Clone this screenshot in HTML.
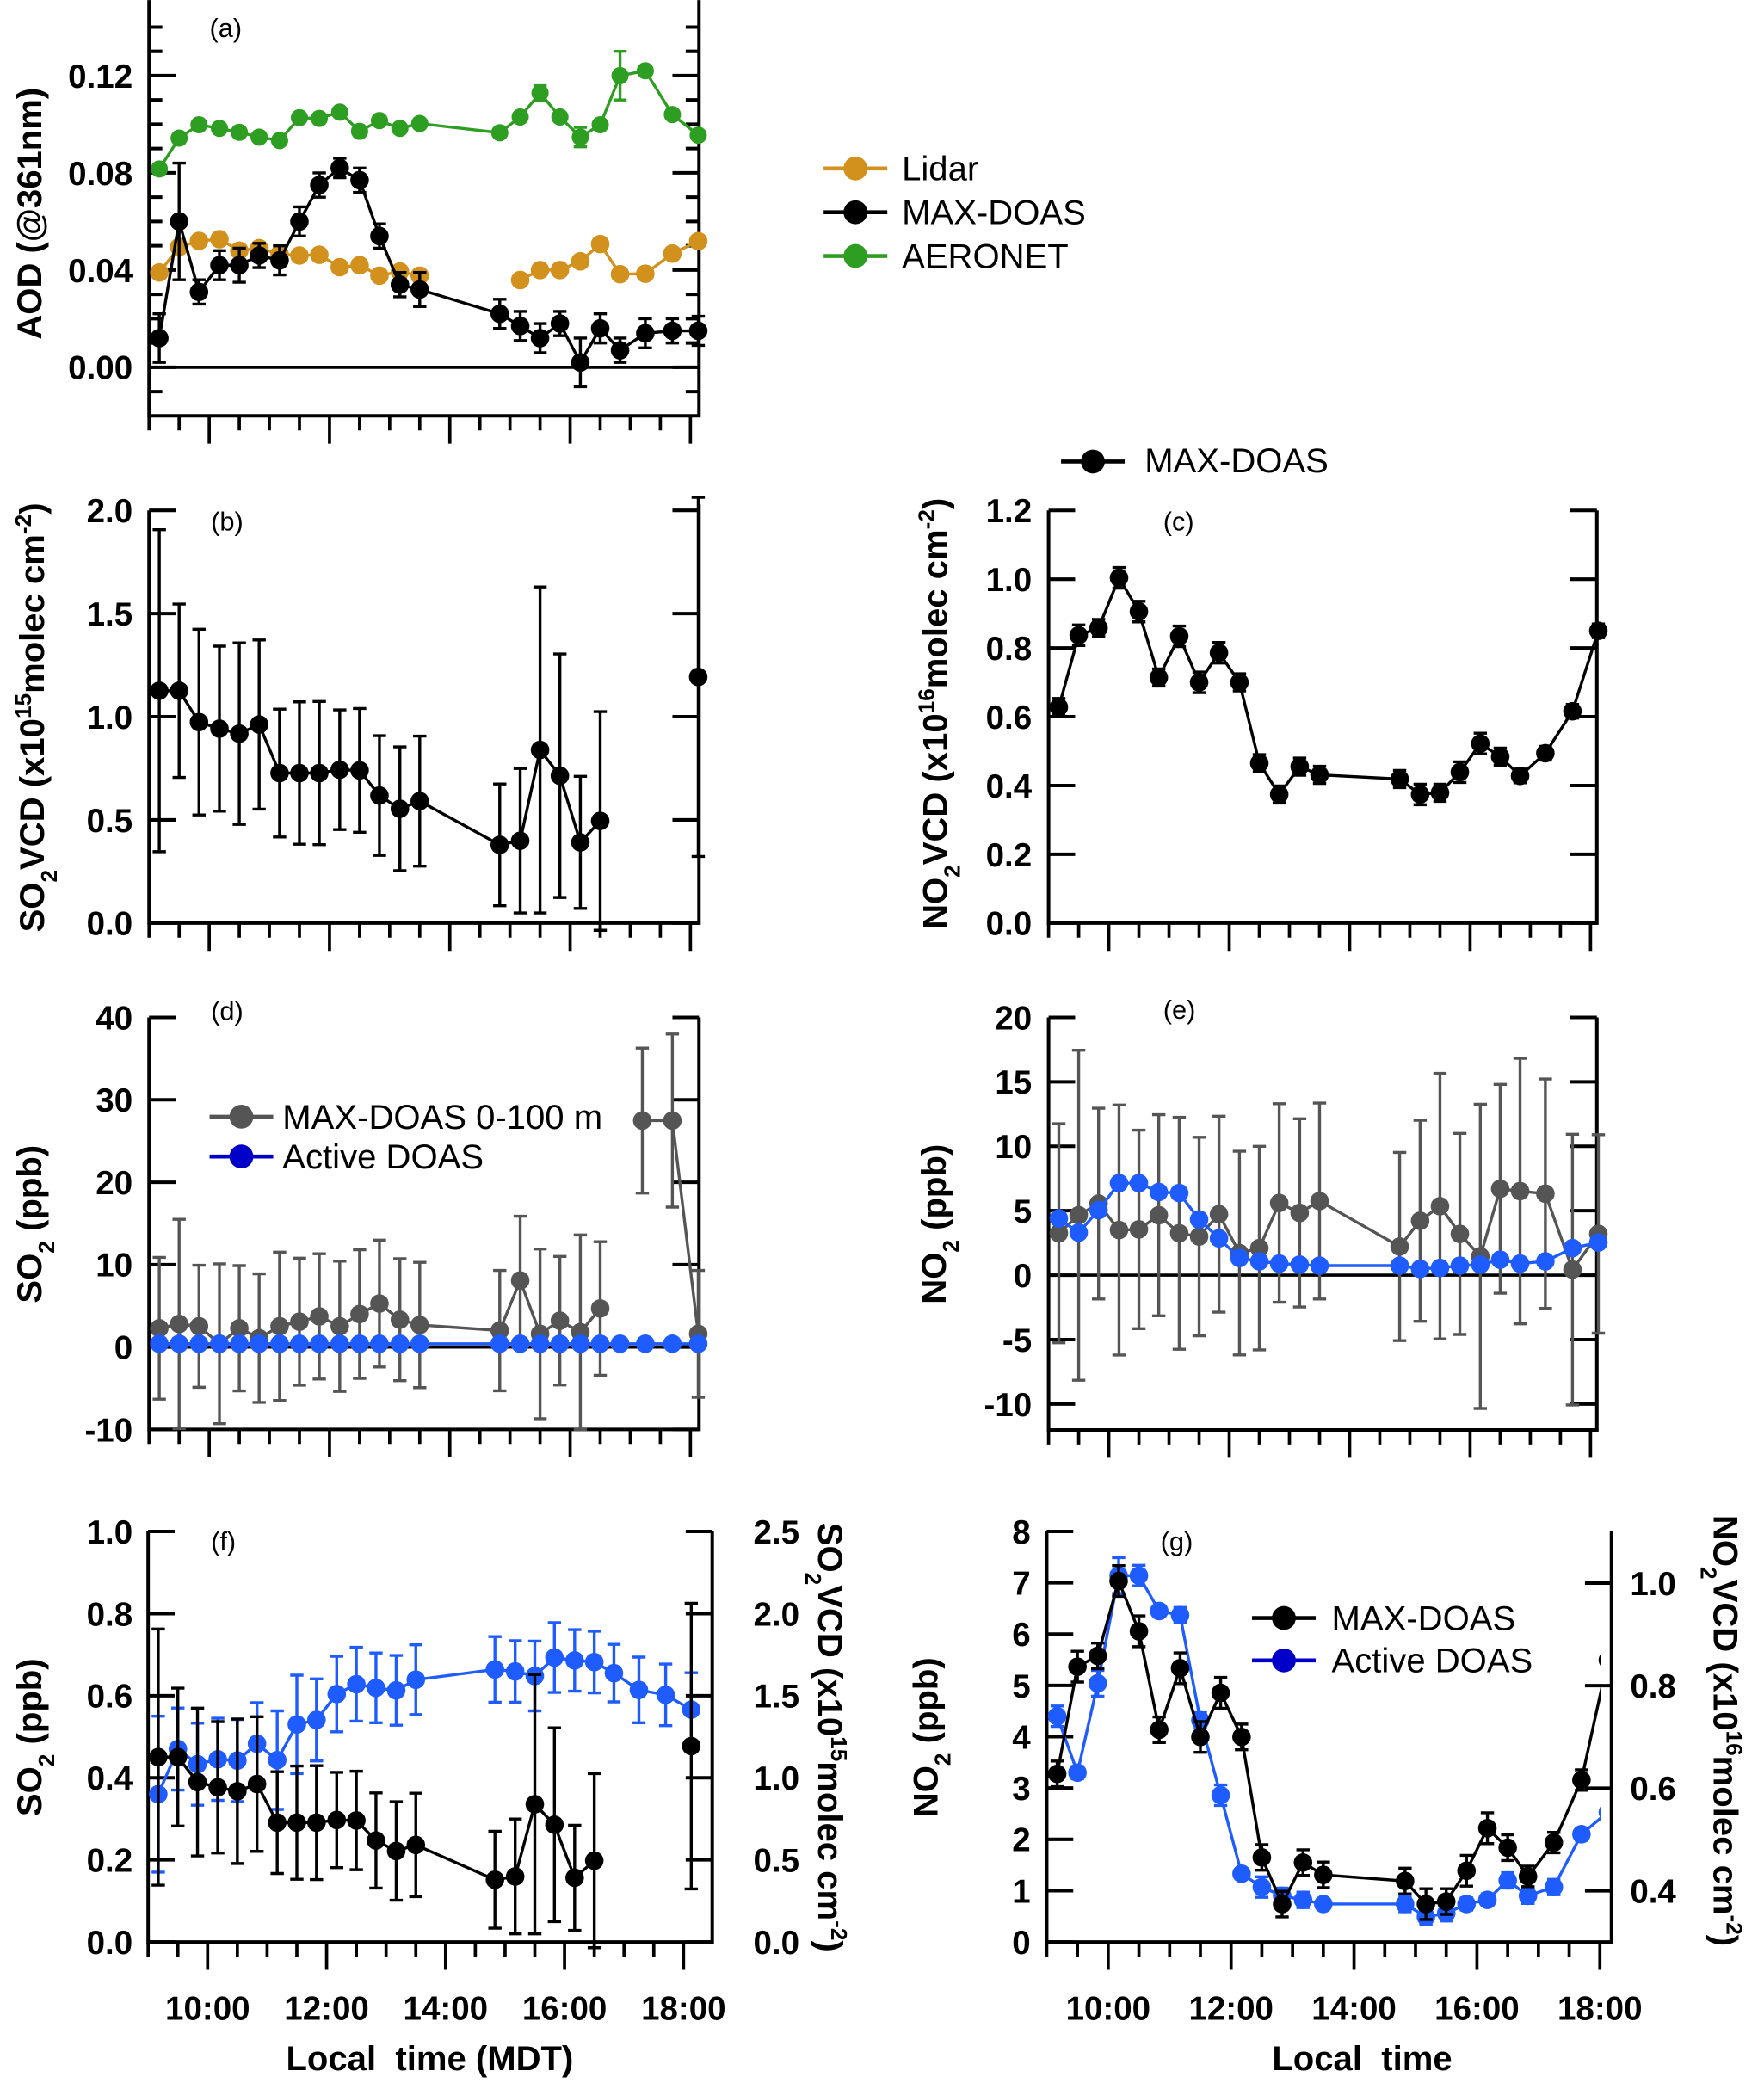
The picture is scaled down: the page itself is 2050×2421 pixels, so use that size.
<!DOCTYPE html>
<html><head><meta charset="utf-8"><title>AOD, SO2 and NO2 time series</title>
<style>
html,body{margin:0;padding:0;background:#fff;}
svg{display:block;font-family:"Liberation Sans",Arial,sans-serif;}
.tl{font-size:25px;font-weight:bold;fill:#000;}
.tt{font-size:26px;font-weight:bold;fill:#000;}
.pl{font-size:20px;fill:#000;}
.lg{font-size:26px;fill:#000;}
</style></head>
<body>
<svg id="chart" width="2050" height="2421" viewBox="0 0 1330 1570.6" xmlns="http://www.w3.org/2000/svg">
<rect x="0" y="0" width="1330" height="1570.6" fill="#fff"/>
<text class="tt" transform="translate(31,161) rotate(-90)" text-anchor="middle">AOD (@361nm)</text>
<text class="tt" transform="translate(33,541) rotate(-90)" text-anchor="middle">SO<tspan font-size="17" baseline-shift="sub">2</tspan>VCD (x10<tspan font-size="17" baseline-shift="super">15</tspan>molec cm<tspan font-size="17" baseline-shift="super">-2</tspan>)</text>
<text class="tt" transform="translate(714,538) rotate(-90)" text-anchor="middle">NO<tspan font-size="17" baseline-shift="sub">2</tspan>VCD (x10<tspan font-size="17" baseline-shift="super">16</tspan>molec cm<tspan font-size="17" baseline-shift="super">-2</tspan>)</text>
<text class="tt" transform="translate(31,923) rotate(-90)" text-anchor="middle">SO<tspan font-size="17" baseline-shift="sub">2</tspan> (ppb)</text>
<text class="tt" transform="translate(713,923) rotate(-90)" text-anchor="middle">NO<tspan font-size="17" baseline-shift="sub">2</tspan> (ppb)</text>
<text class="tt" transform="translate(31,1310) rotate(-90)" text-anchor="middle">SO<tspan font-size="17" baseline-shift="sub">2</tspan> (ppb)</text>
<text class="tt" transform="translate(707,1310) rotate(-90)" text-anchor="middle">NO<tspan font-size="17" baseline-shift="sub">2</tspan> (ppb)</text>
<text class="tt" transform="translate(617,1310) rotate(90)" text-anchor="middle">SO<tspan font-size="17" baseline-shift="sub">2</tspan>VCD (x10<tspan font-size="17" baseline-shift="super">15</tspan>molec cm<tspan font-size="17" baseline-shift="super">-2</tspan>)</text>
<text class="tt" transform="translate(1292,1305) rotate(90)" text-anchor="middle">NO<tspan font-size="17" baseline-shift="sub">2</tspan>VCD (x10<tspan font-size="17" baseline-shift="super">16</tspan>molec cm<tspan font-size="17" baseline-shift="super">-2</tspan>)</text>
<text class="tt" x="324" y="1561" text-anchor="middle" xml:space="preserve">Local  time (MDT)</text>
<text class="tt" x="1027" y="1561" text-anchor="middle" xml:space="preserve">Local  time</text>
<text class="pl" x="158" y="28">(a)</text>
<text class="pl" x="159" y="400">(b)</text>
<text class="pl" x="877" y="400">(c)</text>
<text class="pl" x="159" y="769">(d)</text>
<text class="pl" x="877" y="768">(e)</text>
<text class="pl" x="159" y="1169">(f)</text>
<text class="pl" x="875" y="1169">(g)</text>
<text class="lg" x="680" y="136">Lidar</text>
<text class="lg" x="680" y="169">MAX-DOAS</text>
<text class="lg" x="680" y="202">AERONET</text>
<text class="lg" x="863" y="356">MAX-DOAS</text>
<text class="lg" x="213" y="851">MAX-DOAS 0-100 m</text>
<text class="lg" x="213" y="881">Active DOAS</text>
<text class="lg" x="1004" y="1229">MAX-DOAS</text>
<text class="lg" x="1004" y="1261">Active DOAS</text>
</svg>
<script>
const tA = [9.17,9.5,9.83,10.17,10.5,10.83,11.17,11.5,11.83,12.17,12.5,12.83,13.17,13.5,14.83,15.17,15.5,15.83,16.17,16.5,16.83,17.25,17.7,18.13];
const tB = [9.17,9.5,9.83,10.17,10.5,10.83,11.17,11.5,11.83,12.17,12.5,12.83,13.17,13.5,14.83,15.17,15.5,15.83,16.17,16.5,18.13];
const tLidar = [9.17,9.5,9.83,10.17,10.5,10.83,11.17,11.5,11.83,12.17,12.5,12.83,13.17,13.5,15.17,15.5,15.83,16.17,16.5,16.83,17.25,17.7,18.13];
const tDGray = [9.17,9.5,9.83,10.17,10.5,10.83,11.17,11.5,11.83,12.17,12.5,12.83,13.17,13.5,14.83,15.17,15.5,15.83,16.17,16.5,17.2,17.7,18.13];

const aodMax = [0.012,0.060,0.031,0.042,0.042,0.046,0.044,0.060,0.075,0.082,0.077,0.054,0.034,0.032,0.022,0.017,0.012,0.018,0.002,0.016,0.007,0.014,0.015,0.015];
const aodMaxErr = [0.010,0.024,0.005,0.006,0.007,0.005,0.006,0.006,0.005,0.004,0.005,0.005,0.005,0.007,0.006,0.006,0.006,0.005,0.010,0.006,0.005,0.006,0.005,0.006];
const aodLidar = [0.039,0.0495,0.052,0.0527,0.048,0.049,0.0466,0.046,0.0463,0.0412,0.042,0.0377,0.0394,0.0377,0.0359,0.040,0.040,0.0436,0.0507,0.0383,0.0385,0.0468,0.0519];
const aodAer = [0.0816,0.0943,0.0998,0.0983,0.0967,0.0947,0.0933,0.1027,0.1024,0.105,0.0971,0.1015,0.0983,0.1003,0.0965,0.103,0.1129,0.103,0.0947,0.0998,0.120,0.122,0.104,0.0955];
const aodAerErr = [0.0015,0.0015,0.0015,0.0015,0.0015,0.0015,0.0015,0.0015,0.0015,0.0015,0.0015,0.0015,0.0015,0.0015,0.0015,0.0015,0.003,0.0015,0.004,0.0015,0.010,0.0015,0.0015,0.0015];

const so2Vcd = [1.126,1.126,0.974,0.942,0.918,0.962,0.727,0.727,0.727,0.743,0.740,0.618,0.554,0.591,0.379,0.399,0.839,0.714,0.391,0.495,1.193];
const so2VcdErr = [0.78,0.42,0.45,0.40,0.44,0.41,0.31,0.345,0.347,0.29,0.30,0.29,0.30,0.315,0.295,0.35,0.79,0.59,0.32,0.53,0.87];

const no2Vcd = [0.628,0.837,0.858,1.004,0.906,0.714,0.834,0.700,0.786,0.700,0.465,0.374,0.455,0.431,0.419,0.374,0.379,0.439,0.522,0.484,0.428,0.494,0.616,0.850];
const no2VcdErr = [0.025,0.03,0.025,0.03,0.03,0.025,0.03,0.03,0.03,0.025,0.025,0.025,0.025,0.025,0.025,0.03,0.025,0.03,0.03,0.025,0.02,0.02,0.02,0.02];

const so2Gray = [2.28,2.8,2.52,0.4,2.28,1.08,2.52,3.08,3.72,2.52,4.0,5.28,3.32,2.68,2.0,8.08,1.6,3.2,1.8,4.68,27.48,27.48,1.6];
const so2GrayErr = [8.6,12.7,7.4,9.7,7.6,7.8,9.0,7.7,7.6,7.9,7.8,7.7,7.4,7.6,7.3,7.8,10.3,7.8,11.8,8.1,8.8,10.5,7.7];
const so2Active = [0.4,0.4,0.4,0.4,0.4,0.4,0.4,0.4,0.4,0.4,0.4,0.4,0.4,0.4,0.4,0.4,0.4,0.4,0.4,0.4,0.4,0.4,0.4,0.4];

const no2Gray = [3.25,4.65,5.55,3.5,3.55,4.65,3.25,3.0,4.73,1.71,2.1,5.6,4.83,5.75,2.22,4.22,5.35,3.2,1.46,6.7,6.52,6.32,0.43,3.2];
const no2GrayErr = [8.5,12.8,7.4,9.7,7.7,7.8,9.0,7.7,7.6,7.9,7.9,7.7,7.3,7.6,7.3,7.8,10.3,7.8,11.8,8.1,10.3,8.9,10.5,7.7];
const no2Active = [4.4,3.3,5.04,7.14,7.14,6.45,6.37,4.32,2.86,1.33,1.07,0.9,0.82,0.74,0.74,0.49,0.56,0.74,0.82,1.2,0.9,1.07,2.1,2.53];
const no2ActiveErr = [0.2,0.12,0.25,0.35,0.2,0.1,0.15,0.15,0.2,0.1,0.2,0.15,0.15,0.1,0.15,0.15,0.15,0.12,0.12,0.15,0.15,0.15,0.12,0.12];

const so2ActiveF = [0.36,0.47,0.433,0.445,0.442,0.483,0.443,0.53,0.541,0.604,0.628,0.619,0.613,0.639,0.664,0.659,0.648,0.693,0.686,0.682,0.655,0.614,0.602,0.566];
const so2ActiveFErr = [0.19,0.1,0.1,0.1,0.1,0.1,0.12,0.12,0.1,0.092,0.09,0.085,0.085,0.085,0.08,0.075,0.085,0.085,0.075,0.075,0.07,0.08,0.075,0.09];

const hourTicks = [10,12,14,16,18];
const hourLabels = ['10:00','12:00','14:00','16:00','18:00'];
const aTicks = [0,0.04,0.08,0.12];
const aTickLabels = ['0.00','0.04','0.08','0.12'];
const bTicks = [0,0.5,1,1.5,2];
const bTickLabels = ['0.0','0.5','1.0','1.5','2.0'];
const cTicks = [0,0.2,0.4,0.6,0.8,1.0,1.2];
const cTickLabels = ['0.0','0.2','0.4','0.6','0.8','1.0','1.2'];
const dTicks = [-10,0,10,20,30,40];
const dTickLabels = ['-10','0','10','20','30','40'];
const eTicks = [-10,-5,0,5,10,15,20];
const eTickLabels = ['-10','-5','0','5','10','15','20'];
const fTicks = [0,0.2,0.4,0.6,0.8,1.0];
const fTickLabels = ['0.0','0.2','0.4','0.6','0.8','1.0'];
const fRTicks = [0,0.5,1.0,1.5,2.0,2.5];
const fRTickLabels = ['0.0','0.5','1.0','1.5','2.0','2.5'];
const gTicks = [0,1,2,3,4,5,6,7,8];
const gTickLabels = ['0','1','2','3','4','5','6','7','8'];
const gRTicks = [0.4,0.6,0.8,1.0];
const gRTickLabels = ['0.4','0.6','0.8','1.0'];

const NS = 'http://www.w3.org/2000/svg';
const svg = document.getElementById('chart');
function el(tag, attrs, parent) {
  const e = document.createElementNS(NS, tag);
  for (const k in attrs) e.setAttribute(k, attrs[k]);
  (parent || svg).appendChild(e);
  return e;
}
function X(p, t) { return p.x0 + (t - 9) * p.pxh; }
function Y(p, v) { return p.y0 - v * p.py; }

const P = {
  a: {x0:112.4, pxh:45.35, right:527, top:0, rtop:0, bottom:313.5, y0:276.9, py:1832.5, xmax:18},
  b: {x0:112.4, pxh:45.35, right:527, top:384.8, rtop:380, bottom:696, y0:696, py:155.6, xmax:18},
  c: {x0:790.6, pxh:45.4, right:1204, top:384.8, rtop:384.8, bottom:696, y0:696, py:259.3, xmax:18},
  d: {x0:112.4, pxh:45.35, right:527, top:767.1, rtop:767.1, bottom:1077.8, y0:1015.7, py:6.214, xmax:18},
  e: {x0:790.6, pxh:45.4, right:1204, top:767.1, rtop:767.1, bottom:1078.2, y0:961.5, py:9.72, xmax:18},
  f: {x0:111.7, pxh:44.85, right:537, top:1154.8, rtop:1154.8, bottom:1464.3, y0:1464.3, py:309.5, xmax:18},
  g: {x0:789.2, pxh:46.34, right:1215, top:1154.8, rtop:1154.8, bottom:1464.3, y0:1464.3, py:38.69, xmax:18}
};
function yRg(v) { return 1425.7 - (v - 0.4) * 386.7; }

function frame(key, ticks, labels, opts) {
  const p = P[key];
  const g = el('g', {});
  
  
  const ax = el('path', {d: 'M' + p.x0 + ',' + p.top + 'V' + p.bottom + 'H' + p.right + 'V' + p.rtop, fill: 'none', stroke: '#000', 'stroke-width': 2.6}, g);
  
  
  let d = '';
  for (let t = 9; t <= p.xmax + 0.001; t += 0.5) {
    const x = X(p, t);
    const L = (Math.abs(t % 2) < 0.01) ? 21 : 11;
    d += 'M' + x + ',' + p.bottom + 'v' + L;
  }
  const xt = el('path', {d: d, stroke: '#000', 'stroke-width': 2.4}, g);
  
  
  let dy = '';
  ticks.forEach(v => {
    const y = Y(p, v);
    dy += 'M' + p.x0 + ',' + y + 'h20';
    if (!opts.noRightMirror) dy += 'M' + p.right + ',' + y + 'h-20';
  });
  (opts.minor || []).forEach(v => {
    const y = Y(p, v);
    dy += 'M' + p.x0 + ',' + y + 'h10M' + p.right + ',' + y + 'h-10';
  });
  const yt = el('path', {d: dy, stroke: '#000', 'stroke-width': 2.6}, g);
  
  
  ticks.forEach((v, i) => {
    const t = el('text', {x: opts.labelX, y: Y(p, v) + 9, 'text-anchor': 'end', class: 'tl'}, g);
    
    
    t.textContent = labels[i];
  });
  if (opts.zeroLine) {
    const z = el('line', {x1: p.x0, x2: p.right, y1: Y(p, 0), y2: Y(p, 0), stroke: '#000', 'stroke-width': 2.4}, g);
    
    
  }
  if (opts.xLabels) {
    hourTicks.forEach((h, i) => {
      const t = el('text', {x: X(p, h), y: 1523, 'text-anchor': 'middle', class: 'tl', 'font-size': 26}, g);
      
      
      t.textContent = hourLabels[i];
    });
  }
}

function series(key, name, times, vals, errs, o) {
  const p = P[key];
  const yf = o.yf || (v => Y(p, v));
  const g = el('g', o.clip ? {'clip-path': 'url(#' + o.clip + ')'} : {});
  
  
  const cap = o.cap || 5;
  if (errs) {
    let d = '';
    times.forEach((t, i) => {
      const x = X(p, t), y1 = yf(vals[i] - errs[i]), y2 = yf(vals[i] + errs[i]);
      d += 'M' + x + ',' + y1 + 'V' + y2 + 'M' + (x - cap) + ',' + y1 + 'h' + (2 * cap) + 'M' + (x - cap) + ',' + y2 + 'h' + (2 * cap);
    });
    const eb = el('path', {d: d, stroke: o.errColor || o.color, 'stroke-width': o.ew || 2.2, fill: 'none'}, g);
    
    
  }
  const breaks = o.breaks || [];
  let pts = [];
  const flush = () => {
    if (pts.length > 1) {
      const pl = el('polyline', {points: pts.join(' '), fill: 'none', stroke: o.color, 'stroke-width': o.lw || 2.2}, g);
      
      
    }
    pts = [];
  };
  times.forEach((t, i) => {
    if (breaks.indexOf(i) >= 0) flush();
    pts.push(X(p, t) + ',' + yf(vals[i]));
  });
  flush();
  times.forEach((t, i) => {
    const c = el('circle', {cx: X(p, t), cy: yf(vals[i]), r: o.r || 7, fill: o.color}, g);
    
    
  });
}

function legendEntry(name, x, y, color) {
  const g = el('g', {});
  
  
  el('line', {x1: x - 24, x2: x + 24, y1: y, y2: y, stroke: color, 'stroke-width': 3}, g);
  el('circle', {cx: x, cy: y, r: 9, fill: color}, g);
}

const defs = el('defs', {});
const cp = el('clipPath', {id: 'clipG'}, defs);
el('rect', {x: P.g.x0, y: 1100, width: X(P.g, 18.02) - P.g.x0, height: 380}, cp);

const BLACK = '#000', GRAY = '#555555', BLUE = '#1f5cff', ORANGE = '#d2901c', GREEN = '#2e9e22';

frame('a', aTicks, aTickLabels, {labelX: 100, zeroLine: true, minor: [-0.01,0.01,0.02,0.03,0.05,0.06,0.07,0.09,0.10,0.11,0.13,0.14]});
series('a', 'aeronet-aod', tA, aodAer, aodAerErr, {color: GREEN, r: 6.5});
series('a', 'lidar-aod', tLidar, aodLidar, null, {color: ORANGE, r: 7, breaks: [14]});
series('a', 'maxdoas-aod', tA, aodMax, aodMaxErr, {color: BLACK, r: 7});
legendEntry('legend-lidar', 645, 127, ORANGE);
legendEntry('legend-maxdoas-a', 645, 160, BLACK);
legendEntry('legend-aeronet', 645, 193, GREEN);

frame('b', bTicks, bTickLabels, {labelX: 100});
series('b', 'maxdoas-so2-vcd', tB, so2Vcd, so2VcdErr, {color: BLACK, r: 7, breaks: [20]});

frame('c', cTicks, cTickLabels, {labelX: 778});
series('c', 'maxdoas-no2-vcd', tA, no2Vcd, no2VcdErr, {color: BLACK, r: 7});
legendEntry('legend-maxdoas-c', 824, 348, BLACK);

frame('d', dTicks, dTickLabels, {labelX: 100, zeroLine: true});
series('d', 'maxdoas-so2-0-100m', tDGray, so2Gray, so2GrayErr, {color: GRAY, r: 7, breaks: [20]});
series('d', 'active-doas-so2', tA, so2Active, null, {color: BLUE, r: 7});
legendEntry('legend-maxdoas-100m', 182, 842, GRAY);
legendEntry('legend-active-doas-d', 182, 872, '#0000c8');

frame('e', eTicks, eTickLabels, {labelX: 778, zeroLine: true});
series('e', 'maxdoas-no2-0-100m', tA, no2Gray, no2GrayErr, {color: GRAY, r: 7});
series('e', 'active-doas-no2', tA, no2Active, null, {color: BLUE, r: 7});

frame('f', fTicks, fTickLabels, {labelX: 100, xLabels: true});
fRTicks.forEach((v, i) => {
  const t = el('text', {x: 568, y: Y(P.f, v / 2.5) + 9, 'text-anchor': 'start', class: 'tl'});
  
  
  t.textContent = fRTickLabels[i];
});
series('f', 'active-doas-so2-f', tA, so2ActiveF, so2ActiveFErr, {color: BLUE, r: 7});
series('f', 'maxdoas-so2-vcd-f', tB, so2Vcd, so2VcdErr, {color: BLACK, r: 7, breaks: [20], yf: v => Y(P.f, v / 2.5)});

frame('g', gTicks, gTickLabels, {labelX: 777, xLabels: true, noRightMirror: true});
(function () {
  let d = '';
  gRTicks.forEach(v => { d += 'M' + P.g.right + ',' + yRg(v) + 'h-20'; });
  const rt = el('path', {d: d, stroke: '#000', 'stroke-width': 2.6});
  
  
  gRTicks.forEach((v, i) => {
    const t = el('text', {x: 1229, y: yRg(v) + 9, 'text-anchor': 'start', class: 'tl'});
    
    
    t.textContent = gRTickLabels[i];
  });
})();
series('g', 'active-doas-no2-g', tA, no2Active, no2ActiveErr, {color: BLUE, r: 7, clip: 'clipG'});
series('g', 'maxdoas-no2-vcd-g', tA, no2Vcd, no2VcdErr, {color: BLACK, r: 7, clip: 'clipG', yf: yRg});
legendEntry('legend-maxdoas-g', 968, 1220, BLACK);
legendEntry('legend-active-doas-g', 968, 1252, '#0000c8');
</script>
</body></html>
